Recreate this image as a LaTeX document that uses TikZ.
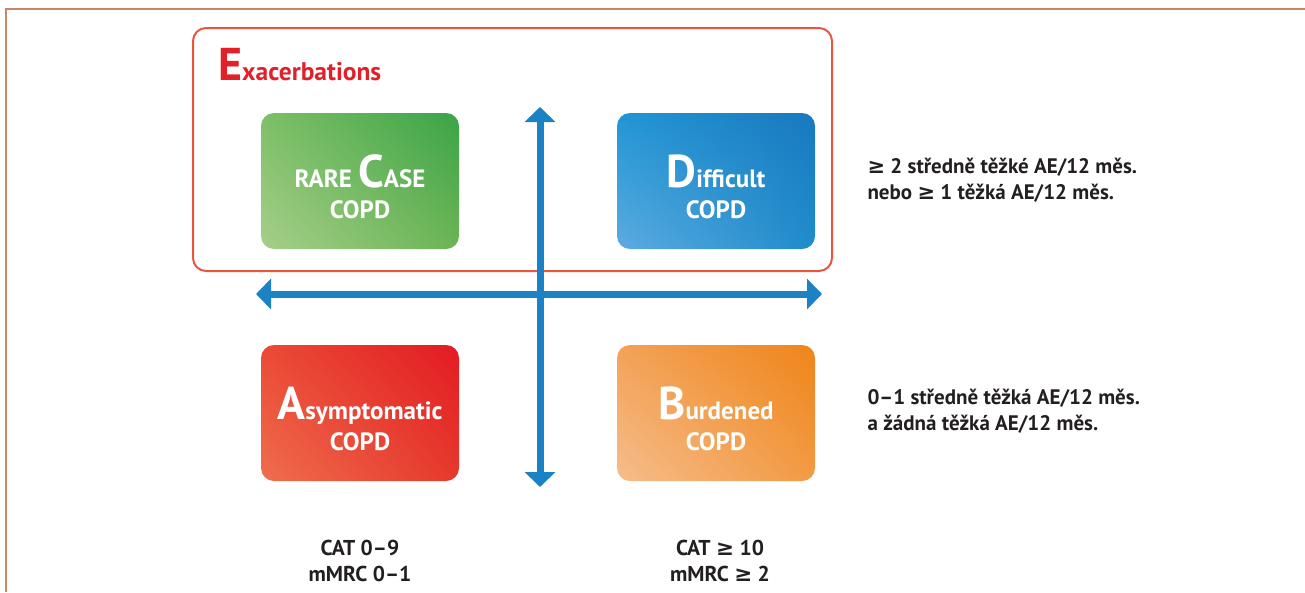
\documentclass[tikz,border=0pt]{standalone}
\usepackage{fontspec}
\setmainfont{PT Sans}
\newfontfamily\symfont{DejaVu Sans}
\usetikzlibrary{arrows.meta,shadings}
\definecolor{framecol}{HTML}{C4876A}
\definecolor{exred}{HTML}{E9553F}
\definecolor{titlered}{HTML}{E2202A}
\definecolor{axiscol}{HTML}{1B82C5}
\definecolor{txt}{HTML}{231F20}
\definecolor{gUR}{HTML}{3AA447}\definecolor{gLL}{HTML}{A6CF8A}\definecolor{gUL}{HTML}{7EBF66}\definecolor{gLR}{HTML}{6CB455}
\definecolor{bUR}{HTML}{1979BE}\definecolor{bLL}{HTML}{5DABE0}\definecolor{bUL}{HTML}{2096D4}\definecolor{bLR}{HTML}{1E8CCB}
\definecolor{rUR}{HTML}{E31B23}\definecolor{rLL}{HTML}{EF6E4F}\definecolor{rUL}{HTML}{EA4A35}\definecolor{rLR}{HTML}{E6392C}
\definecolor{oUR}{HTML}{EF8519}\definecolor{oLL}{HTML}{F6BD8B}\definecolor{oUL}{HTML}{F3A257}\definecolor{oLR}{HTML}{F29A44}
\tikzset{
  quad/.style={minimum width=198pt, minimum height=136pt, rounded corners=13pt, inner sep=0pt},
  quadtxt/.style={anchor=base, inner sep=0pt, text=white, font=\bfseries\fontsize{25}{28}\selectfont},
  greenq/.style={quad, upper right=gUR, lower left=gLL, upper left=gUL, lower right=gLR},
  blueq/.style={quad, upper right=bUR, lower left=bLL, upper left=bUL, lower right=bLR},
  redq/.style={quad, upper right=rUR, lower left=rLL, upper left=rUL, lower right=rLR},
  orangeq/.style={quad, upper right=oUR, lower left=oLL, upper left=oUL, lower right=oLR},
  axisline/.style={draw=axiscol, line width=7pt, {Triangle[width=30pt,length=15pt]}-{Triangle[width=30pt,length=15pt]}},
  side/.style={anchor=west, align=left, text=txt, font=\bfseries\fontsize{21}{26}\selectfont},
  bottomtxt/.style={align=center, text=txt, font=\bfseries\fontsize{21.5}{26}\selectfont},
}
\newcommand{\biglet}[1]{{\fontsize{46}{46}\selectfont #1}}
\newcommand{\gesym}{{\symfont\bfseries ≥}}
\begin{document}
\begin{tikzpicture}[x=1pt,y=-1pt]
\useasboundingbox (0,0) rectangle (1305,592);
% frame
\coordinate (f1) at (6,592);
\coordinate (f2) at (6,9);
\coordinate (f3) at (1305,9);
\draw[framecol, line width=2pt] (f1) -- (f2) -- (f3);
% exacerbation box
\node[draw=exred, line width=2pt, rounded corners=13pt, minimum width=639pt, minimum height=243pt, inner sep=0pt] (ex) at (512.5,149.5) {};
\node[anchor=base west, text=titlered, font=\bfseries\fontsize{25.5}{30}\selectfont, inner sep=0pt] (extitle) at (218,80) {{\fontsize{46}{46}\selectfont E}xacerbations};
% quadrants
\node[greenq] (C) at (360,181) {};
\node[blueq] (D) at (716,181) {};
\node[redq] (A) at (360,413) {};
\node[orangeq] (B) at (716,413) {};
\node[quadtxt] (Ct) at (360,187) {RARE \biglet{C}ASE};
\node[quadtxt] (Cc) at (360,218) {COPD};
\node[quadtxt] (Dt) at (716,187) {\biglet{D}ifficult};
\node[quadtxt] (Dc) at (716,218) {COPD};
\node[quadtxt] (At) at (360,419) {\biglet{A}symptomatic};
\node[quadtxt] (Ac) at (360,450) {COPD};
\node[quadtxt] (Bt) at (716,419) {\biglet{B}urdened};
\node[quadtxt] (Bc) at (716,450) {COPD};
% axes
\coordinate (vt) at (540,107);
\coordinate (vb) at (540,487);
\coordinate (hl) at (256,294);
\coordinate (hr) at (822,294);
\draw[axisline] (vt) -- (vb);
\draw[axisline] (hl) -- (hr);
% side texts
\node[side] (t1) at (864,180) {\gesym{} 2 středně těžké AE/12 měs.\\nebo \gesym{} 1 těžká AE/12 měs.};
\node[side] (t2) at (864,411) {0–1 středně těžká AE/12 měs.\\a žádná těžká AE/12 měs.};
\node[bottomtxt] (b1) at (360,561) {CAT 0–9\\mMRC 0–1};
\node[bottomtxt] (b2) at (720,561) {CAT \gesym{} 10\\mMRC \gesym{} 2};
\end{tikzpicture}
\end{document}
